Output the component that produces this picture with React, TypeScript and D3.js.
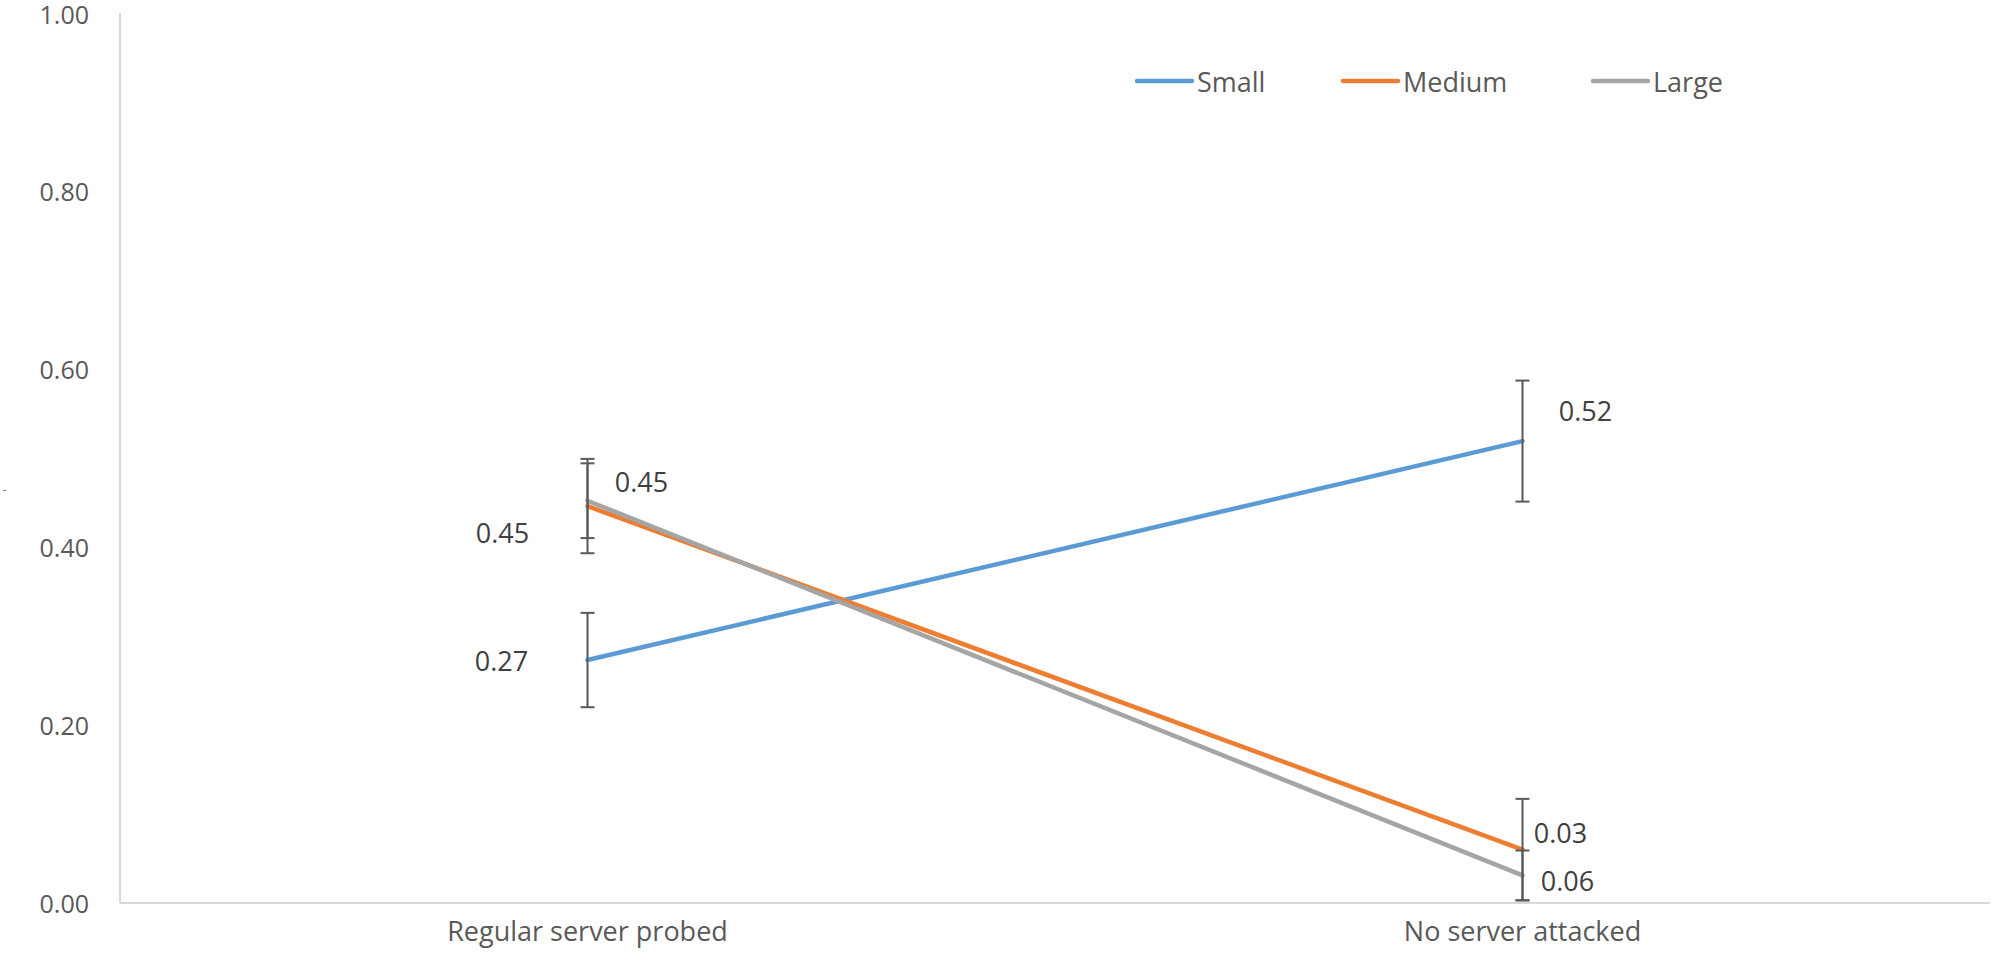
import * as d3 from 'd3';

const categories = ['Regular server probed', 'No server attacked'];
const seriesNames = ['Small', 'Medium', 'Large'];
const seriesColors = ['#5B9BD5', '#ED7D31', '#A5A5A5'];
const smallValues = [0.273, 0.519];
const mediumValues = [0.446, 0.06];
const largeValues = [0.452, 0.031];
const smallErrors = [0.053, 0.068];
const mediumErrors = [0.053, 0.057];
const largeErrors = [0.042, 0.028];
const smallLabels = ['0.27', '0.52'];
const mediumLabels = ['0.45', '0.03'];
const largeLabels = ['0.45', '0.06'];
const yTicks = [0, 0.2, 0.4, 0.6, 0.8, 1.0];

// label offsets from the point (px), per series per category
const labelOffsets = [
  [[-86, 0], [63, -31]],
  [[-85, 26], [38, -17]],
  [[54, -19], [45, 5]],
];

const W = 1994;
const H = 960;
const margin = { top: 13, right: 4, bottom: 57, left: 120 };
const FONT = '"Open Sans", sans-serif';
const FS = 27;

export default function App() {
  const values = [smallValues, mediumValues, largeValues];
  const errors = [smallErrors, mediumErrors, largeErrors];
  const labels = [smallLabels, mediumLabels, largeLabels];

  const x = d3
    .scaleBand()
    .domain(categories)
    .range([margin.left, W - margin.right])
    .padding(0);
  const y = d3.scaleLinear().domain([0, 1]).range([H - margin.bottom, margin.top]);
  const cx = (c: string) => (x(c) ?? 0) + x.bandwidth() / 2;

  const line = d3
    .line<number>()
    .x((_, i) => cx(categories[i]))
    .y((d) => y(d));

  const legendX = [1137, 1343, 1593];

  return (
    <svg
      width={W}
      height={H}
      style={{ position: 'absolute', left: 0, top: 0, background: '#fff' }}
      fontFamily={FONT}
    >
      {/* axes */}
      <line x1={margin.left} x2={margin.left} y1={y(1)} y2={y(0)} stroke="#d9d9d9" strokeWidth={2} />
      <line x1={margin.left} x2={W - margin.right} y1={y(0)} y2={y(0)} stroke="#d9d9d9" strokeWidth={2} />
      {yTicks.map((t) => (
        <text
          key={t}
          x={89}
          y={t === 1 ? y(t) + 1 : y(t)}
          textAnchor="end"
          dominantBaseline="central"
          fontSize={FS - 2}
          fill="#595959"
        >
          {d3.format('.2f')(t)}
        </text>
      ))}
      <text x={3} y={493} fontSize={10} fill="#595959">-</text>
      {categories.map((c) => (
        <text key={c} x={cx(c)} y={941} textAnchor="middle" fontSize={FS} fill="#595959">
          {c}
        </text>
      ))}

      {/* lines */}
      {values.map((v, s) => (
        <path
          key={s}
          d={line(v) ?? ''}
          fill="none"
          stroke={seriesColors[s]}
          strokeWidth={4.5}
          strokeLinecap="round"
        />
      ))}

      {/* error bars */}
      {values.map((v, s) =>
        v.map((val, i) => {
          const px = cx(categories[i]);
          const top = y(val + errors[s][i]);
          const bot = y(Math.max(0, val - errors[s][i]));
          return (
            <g key={`${s}-${i}`} stroke="#595959" strokeWidth={2}>
              <line x1={px} x2={px} y1={top} y2={bot} />
              <line x1={px - 7} x2={px + 7} y1={top} y2={top} />
              <line x1={px - 7} x2={px + 7} y1={bot} y2={bot} />
            </g>
          );
        })
      )}

      {/* data labels */}
      {values.map((v, s) =>
        v.map((val, i) => (
          <text
            key={`l${s}-${i}`}
            x={cx(categories[i]) + labelOffsets[s][i][0]}
            y={y(val) + labelOffsets[s][i][1]}
            textAnchor="middle"
            dominantBaseline="central"
            fontSize={FS}
            fill="#404040"
          >
            {labels[s][i]}
          </text>
        ))
      )}

      {/* legend */}
      {seriesNames.map((n, s) => (
        <g key={n}>
          <line
            x1={legendX[s]}
            x2={legendX[s] + 55}
            y1={81}
            y2={81}
            stroke={seriesColors[s]}
            strokeWidth={4.5}
            strokeLinecap="round"
          />
          <text x={legendX[s] + 60} y={81} dominantBaseline="central" fontSize={FS} fill="#595959">
            {n}
          </text>
        </g>
      ))}
    </svg>
  );
}
